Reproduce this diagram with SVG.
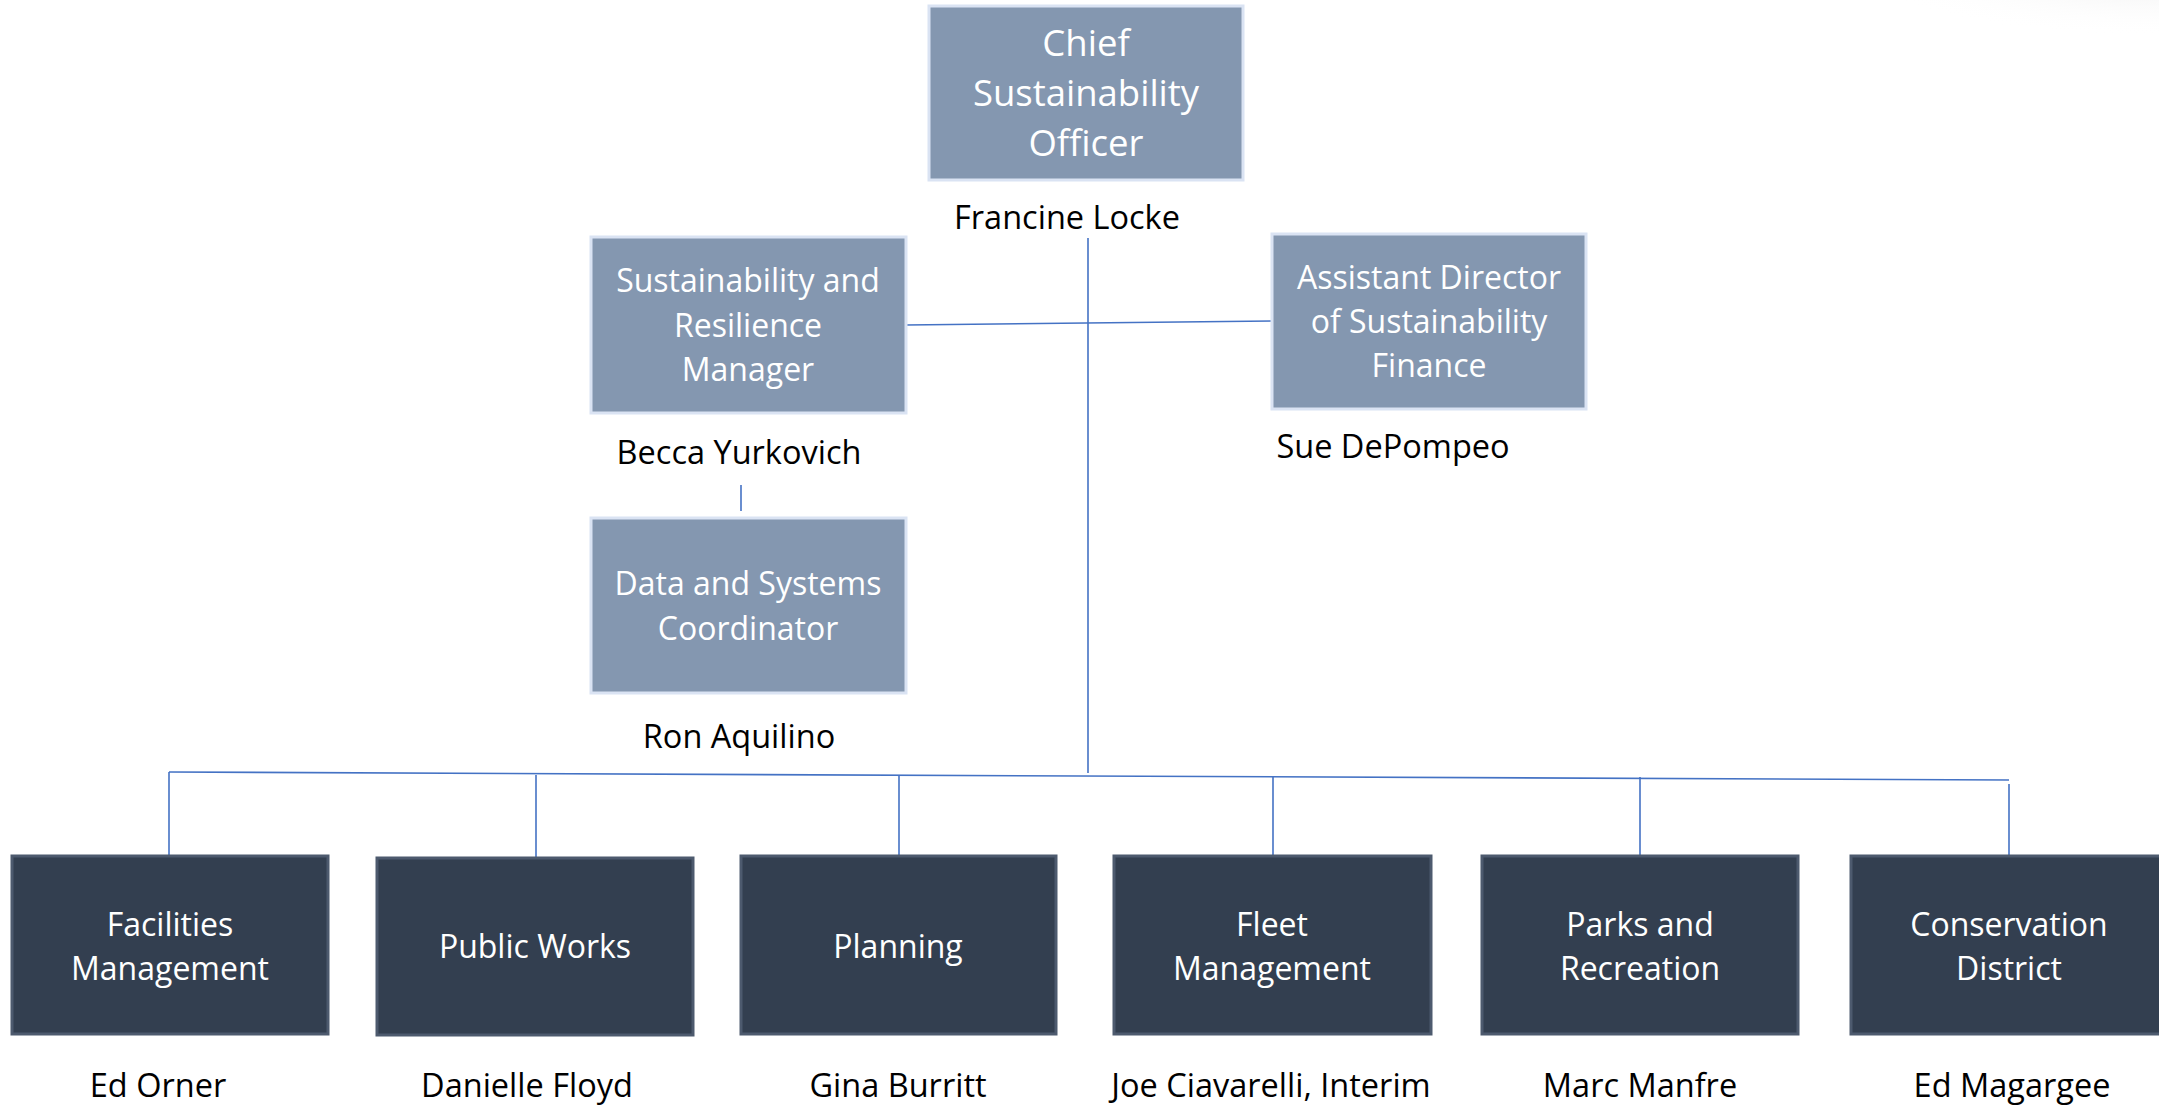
<svg xmlns="http://www.w3.org/2000/svg" width="2159" height="1106" viewBox="0 0 2159 1106">
<style>
.mid{fill:#8497B0;stroke:#DAE3F3;stroke-width:3}
.dark{fill:#333F50;stroke:#4D5A6E;stroke-width:3}
.bt{font-family:"Open Sans","Noto Sans","Liberation Sans",sans-serif;fill:#FFFFFF;text-anchor:middle}
.nm{font-family:"Open Sans","Noto Sans","Liberation Sans",sans-serif;fill:#000000;text-anchor:middle;font-size:32.5px}
.c{stroke:#4472C4;stroke-width:1.6;fill:none}
</style>
<defs>
<radialGradient id="sh" cx="2159" cy="-30" r="300" gradientUnits="userSpaceOnUse" gradientTransform="translate(2159,-30) scale(1,0.22) translate(-2159,30)">
<stop offset="0" stop-color="#ECECEC"/>
<stop offset="1" stop-color="#FFFFFF" stop-opacity="0"/>
</radialGradient>
</defs>
<rect x="0" y="0" width="2159" height="1106" fill="#FFFFFF"/>
<rect x="1800" y="0" width="359" height="80" fill="url(#sh)"/>
<g id="connectors">
<line class="c" x1="1088" y1="238" x2="1088" y2="773"/>
<line class="c" x1="906" y1="325" x2="1272" y2="321"/>
<line class="c" x1="741" y1="485" x2="741" y2="511"/>
<line class="c" x1="169" y1="772" x2="2009" y2="780"/>
<line class="c" x1="169" y1="772" x2="169" y2="856"/>
<line class="c" x1="536" y1="775" x2="536" y2="857"/>
<line class="c" x1="899" y1="776" x2="899" y2="856"/>
<line class="c" x1="1273" y1="777" x2="1273" y2="856"/>
<line class="c" x1="1640" y1="777" x2="1640" y2="856"/>
<line class="c" x1="2009" y1="784" x2="2009" y2="856"/>
</g>
<g id="cso">
<rect class="mid" x="929" y="6" width="314" height="174"/>
<text class="bt" font-size="36.5" x="1086" y="56">Chief</text>
<text class="bt" font-size="36.5" x="1086" y="106">Sustainability</text>
<text class="bt" font-size="36.5" x="1086" y="156">Officer</text>
<text class="nm" x="1067" y="229">Francine Locke</text>
</g>
<g id="srm">
<rect class="mid" x="591" y="237" width="315" height="176"/>
<text class="bt" font-size="32" x="748" y="292">Sustainability and</text>
<text class="bt" font-size="32" x="748" y="337">Resilience</text>
<text class="bt" font-size="32" x="748" y="381">Manager</text>
<text class="nm" x="739" y="464">Becca Yurkovich</text>
</g>
<g id="adsf">
<rect class="mid" x="1272" y="234" width="314" height="175"/>
<text class="bt" font-size="32" x="1429" y="289">Assistant Director</text>
<text class="bt" font-size="32" x="1429" y="333">of Sustainability</text>
<text class="bt" font-size="32" x="1429" y="377">Finance</text>
<text class="nm" x="1393" y="458">Sue DePompeo</text>
</g>
<g id="dsc">
<rect class="mid" x="591" y="518" width="315" height="175"/>
<text class="bt" font-size="32" x="748" y="595">Data and Systems</text>
<text class="bt" font-size="32" x="748" y="640">Coordinator</text>
<text class="nm" x="739" y="748">Ron Aquilino</text>
</g>
<g id="facilities">
<rect class="dark" x="12" y="856" width="316" height="178"/>
<text class="bt" font-size="32" x="170" y="936">Facilities</text>
<text class="bt" font-size="32" x="170" y="980">Management</text>
<text class="nm" x="158" y="1097">Ed Orner</text>
</g>
<g id="publicworks">
<rect class="dark" x="377" y="858" width="316" height="177"/>
<text class="bt" font-size="32" x="535" y="958">Public Works</text>
<text class="nm" x="527" y="1097">Danielle Floyd</text>
</g>
<g id="planning">
<rect class="dark" x="741" y="856" width="315" height="178"/>
<text class="bt" font-size="32" x="898" y="958">Planning</text>
<text class="nm" x="898" y="1097">Gina Burritt</text>
</g>
<g id="fleet">
<rect class="dark" x="1114" y="856" width="317" height="178"/>
<text class="bt" font-size="32" x="1272" y="936">Fleet</text>
<text class="bt" font-size="32" x="1272" y="980">Management</text>
<text class="nm" x="1271" y="1097">Joe Ciavarelli, Interim</text>
</g>
<g id="parks">
<rect class="dark" x="1482" y="856" width="316" height="178"/>
<text class="bt" font-size="32" x="1640" y="936">Parks and</text>
<text class="bt" font-size="32" x="1640" y="980">Recreation</text>
<text class="nm" x="1640" y="1097">Marc Manfre</text>
</g>
<g id="conservation">
<rect class="dark" x="1851" y="856" width="316" height="178"/>
<text class="bt" font-size="32" x="2009" y="936">Conservation</text>
<text class="bt" font-size="32" x="2009" y="980">District</text>
<text class="nm" x="2012" y="1097">Ed Magargee</text>
</g>
</svg>
